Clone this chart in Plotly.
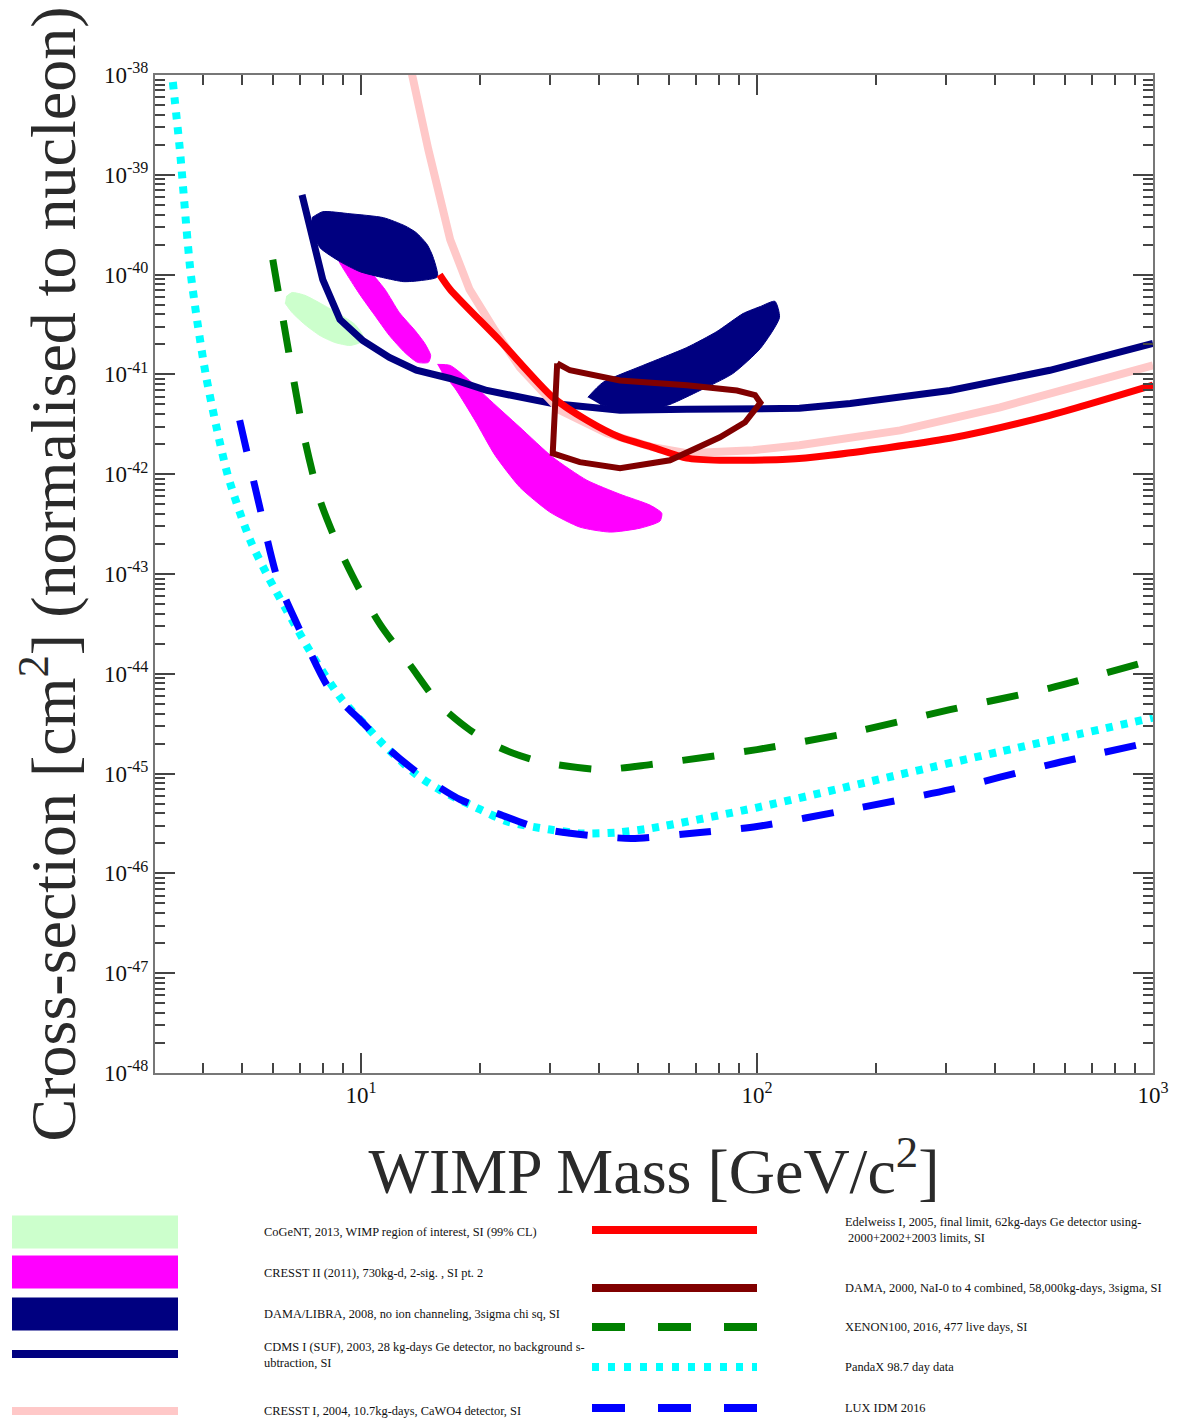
import plotly.graph_objects as go

# ---------------- data (WIMP mass in GeV/c^2, cross-section in cm^2) ----------------
pandax_m = [3.35, 3.49, 3.72, 4.06, 4.61, 5.25, 5.89, 6.70, 7.66, 8.96, 10.35, 11.4, 13.8,
            15.8, 20.0, 23.4, 30.0, 36.4, 44.3, 53.7, 100, 230, 411, 1000]
pandax_s = [8.5e-39, 1.78e-39, 1.0e-40, 9.8e-42, 9.8e-43, 2.19e-43, 8.7e-44, 3.47e-44, 1.38e-44,
            5.5e-45, 2.95e-45, 1.95e-45, 9.8e-46, 6.9e-46, 4.37e-46, 3.31e-46, 2.75e-46, 2.51e-46,
            2.57e-46, 2.82e-46, 4.57e-46, 9.8e-46, 1.66e-45, 3.63e-45]

lux_m = [4.94, 5.50, 6.17, 7.01, 8.35, 9.94, 11.8, 14.1, 17.8, 22.4, 28.3, 37.9, 48.3, 71.8,
         100, 172, 307, 549, 1000]
lux_s = [3.47e-42, 5.5e-43, 8.7e-44, 2.75e-44, 6.9e-45, 3.47e-45, 1.74e-45, 9.8e-46, 5.5e-46,
         3.9e-46, 2.82e-46, 2.4e-46, 2.24e-46, 2.57e-46, 2.95e-46, 4.37e-46, 6.9e-46, 1.23e-45,
         2.09e-45]

xenon_m = [5.99, 6.36, 6.73, 7.22, 7.88, 8.85, 9.94, 11.2, 13.3, 15.8, 18.8, 22.4, 28.3, 40.2,
           53.7, 100, 172, 307, 549, 1000]
xenon_s = [1.41e-40, 3.55e-41, 9.8e-42, 2.19e-42, 5.5e-43, 1.74e-43, 6.9e-44, 3.09e-44, 1.23e-44,
           4.9e-45, 2.75e-45, 1.82e-45, 1.32e-45, 1.10e-45, 1.23e-45, 1.74e-45, 2.57e-45, 4.37e-45,
           7.2e-45, 1.38e-44]

cdms_m = [7.10, 8.01, 8.85, 10.1, 11.8, 13.8, 16.8, 20.8, 30.5, 45.1, 66.5, 97.7,
          128, 172, 307, 549, 1000]
cdms_s = [6.3e-40, 8.9e-41, 3.55e-41, 2.19e-41, 1.48e-41, 1.10e-41, 9.1e-42,
          6.9e-42, 5.1e-42, 4.37e-42, 4.47e-42, 4.57e-42, 4.57e-42, 5.1e-42, 6.9e-42, 1.10e-41,
          2.04e-41]

edel_m = [15.8, 16.8, 22.4, 30.5, 37.2, 45.1, 54.6, 66.5, 80.6, 119, 153, 307, 549, 1000]
edel_s = [1.0e-40, 7.1e-41, 2.19e-41, 5.9e-42, 3.47e-42, 2.34e-42, 1.86e-42, 1.45e-42, 1.38e-42,
          1.41e-42, 1.55e-42, 2.29e-42, 3.89e-42, 7.8e-42]

cresst1_m = [12.9, 14.8, 16.8, 18.8, 21.8, 25.2, 31.8, 41.8, 54.6, 66.5, 97.7, 128, 230, 411, 1000]
cresst1_s = [2.2e-38, 1.78e-39, 2.24e-40, 7.1e-41, 2.75e-41, 1.17e-41, 4.37e-42, 2.57e-42,
             1.86e-42, 1.62e-42, 1.74e-42, 1.95e-42, 2.75e-42, 4.68e-42, 1.23e-41]

dama2000_m = [31.3, 30.5, 35.7, 45.1, 60.3, 80.6, 93.3, 102, 98.9, 89.0, 66.5, 45.1, 33.7, 31.3]
dama2000_s = [1.29e-41, 1.62e-42, 1.32e-42, 1.15e-42, 1.38e-42, 2.34e-42, 3.31e-42, 5.2e-42,
              6.2e-42, 6.9e-42, 7.8e-42, 8.7e-42, 1.10e-41, 1.29e-41]

libra1_m = [7.52, 8.01, 9.38, 11.4, 12.9, 13.8, 14.7, 15.2, 15.6, 14.1, 12.8, 11.4, 9.94, 8.85,
            7.88, 7.52]
libra1_s = [3.72e-40, 4.27e-40, 4.07e-40, 3.72e-40, 3.09e-40, 2.63e-40, 2.0e-40, 1.51e-40,
            9.5e-41, 8.7e-41, 8.5e-41, 9.3e-41, 1.07e-40, 1.35e-40, 1.86e-40, 2.82e-40]

libra2_m = [37.4, 40.8, 51.5, 66.5, 79.2, 92.2, 102, 111, 114, 102, 86.9, 71.8, 60.3, 52.1,
            45.1, 40.2]
libra2_s = [5.9e-42, 8.3e-42, 1.23e-41, 1.86e-41, 2.69e-41, 4.07e-41, 4.79e-41, 5.4e-41, 3.72e-41,
            1.82e-41, 1.02e-41, 6.9e-42, 5.0e-42, 4.27e-42, 4.57e-42, 5.0e-42]

cogent_m = [6.47, 6.70, 7.22, 8.01, 8.85, 9.66, 10.1, 9.94, 9.38, 8.59, 7.88, 7.22, 6.70, 6.43]
cogent_s = [6.0e-41, 6.6e-41, 6.2e-41, 5.0e-41, 3.98e-41, 3.16e-41, 2.45e-41, 2.09e-41, 1.95e-41,
            2.09e-41, 2.45e-41, 3.16e-41, 4.17e-41, 5.2e-41]

cresst2a_m = [8.85, 9.38, 10.35, 11.5, 12.5, 13.7, 14.5, 15.0, 14.8, 13.9, 12.9, 11.8, 10.8,
              9.94, 9.22, 8.80]
cresst2a_s = [1.70e-40, 1.70e-40, 1.17e-40, 7.1e-41, 4.17e-41, 2.75e-41, 2.04e-41, 1.55e-41,
              1.32e-41, 1.32e-41, 1.66e-41, 2.45e-41, 3.98e-41, 6.3e-41, 1.0e-40, 1.35e-40]

cresst2b_m = [15.6, 16.8, 18.8, 20.8, 25.2, 30.5, 37.2, 45.1, 53.7, 57.5, 56.9, 50.7, 42.6, 35.7,
              30.0, 25.2, 21.8, 19.4, 17.3, 16.0]
cresst2b_s = [1.26e-41, 1.23e-41, 8.7e-42, 5.9e-42, 2.95e-42, 1.48e-42, 8.7e-43, 6.3e-43, 4.9e-43,
              4.07e-43, 3.39e-43, 2.88e-43, 2.63e-43, 2.95e-43, 4.17e-43, 7.4e-43, 1.55e-42,
              3.47e-42, 7.2e-42, 1.05e-41]

y_tick_exps = [-48, -47, -46, -45, -44, -43, -42, -41, -40, -39, -38]
x_tick_vals = [10, 100, 1000]
x_tick_text = ["10<sup>1</sup>", "10<sup>2</sup>", "10<sup>3</sup>"]

legend_left = [
    ("CoGeNT, 2013, WIMP region of interest, SI (99% CL)", "#ccffcc", "box"),
    ("CRESST II (2011), 730kg-d, 2-sig. , SI pt. 2", "#ff00ff", "box"),
    ("DAMA/LIBRA, 2008, no ion channeling, 3sigma chi sq, SI", "#000080", "box"),
    ("CDMS I (SUF), 2003, 28 kg-days Ge detector, no background s-<br>ubtraction, SI", "#000080", "line"),
    ("CRESST I, 2004, 10.7kg-days, CaWO4 detector, SI", "#ffc8c8", "line"),
]
legend_right = [
    ("Edelweiss I, 2005, final limit, 62kg-days Ge detector using-<br> 2000+2002+2003 limits, SI", "#ff0000", "solid"),
    ("DAMA, 2000, NaI-0 to 4 combined, 58,000kg-days, 3sigma, SI", "#800000", "solid"),
    ("XENON100, 2016, 477 live days, SI", "#008000", "33px,33px"),
    ("PandaX 98.7 day data", "#00ffff", "7px,9px"),
    ("LUX IDM 2016", "#0000ff", "33px,33px"),
]

# ---------------- figure ----------------
W, H = 1180, 1423
L, R, T, B = 155, 27, 75, 350
PW, PH = W - L - R, H - T - B
SERIF = "Liberation Serif, Times New Roman, serif"


def px(x):
    return (x - L) / PW


def py(y):
    return (H - B - y) / PH


fig = go.Figure()


def region(m, s, color, name):
    fig.add_trace(go.Scatter(x=m, y=s, mode="lines", fill="toself", fillcolor=color,
                             line=dict(color=color, width=1, shape="spline", smoothing=0.6),
                             name=name, showlegend=False, hoverinfo="skip"))


def curve(m, s, color, width, dash="solid", shape="linear", name=""):
    fig.add_trace(go.Scatter(x=m, y=s, mode="lines", name=name, showlegend=False,
                             line=dict(color=color, width=width, dash=dash, shape=shape,
                                       smoothing=0.7)))


region(cogent_m, cogent_s, "#ccffcc", "CoGeNT")
region(cresst2a_m, cresst2a_s, "#ff00ff", "CRESST II")
region(cresst2b_m, cresst2b_s, "#ff00ff", "CRESST II")
region(libra1_m, libra1_s, "#000080", "DAMA/LIBRA")
region(libra2_m, libra2_s, "#000080", "DAMA/LIBRA")
curve(cdms_m, cdms_s, "#000080", 7, name="CDMS I")
curve(cresst1_m, cresst1_s, "#ffc8c8", 8, name="CRESST I")
curve(edel_m, edel_s, "#ff0000", 7, shape="spline", name="Edelweiss I")
curve(dama2000_m, dama2000_s, "#800000", 6, name="DAMA 2000")
curve(xenon_m, xenon_s, "#008000", 7, dash="32px,30px", shape="spline", name="XENON100")
curve(pandax_m, pandax_s, "#00ffff", 8, dash="7px,8px", shape="spline", name="PandaX")
curve(lux_m, lux_s, "#0000ff", 7, dash="32px,30px", shape="spline", name="LUX")

axis_common = dict(
    type="log", showgrid=False, zeroline=False, showline=True, linecolor="#777777",
    linewidth=2, mirror="allticks", ticks="inside", ticklen=20, tickwidth=1.5,
    tickcolor="#444444",
    minor=dict(ticks="inside", ticklen=10, tickwidth=1.5, tickcolor="#444444",
               dtick="D1", showgrid=False),
    tickfont=dict(family=SERIF, size=23, color="#111111"),
)

fig.update_xaxes(
    **axis_common, range=[0.48, 3], tickmode="array", tickvals=x_tick_vals, ticktext=x_tick_text,
    title=dict(text="WIMP Mass [GeV/c<sup>2</sup>]",
               font=dict(family=SERIF, size=64, color="#2a2a2a"), standoff=42),
)
fig.update_yaxes(
    **axis_common, range=[-48, -38], tickmode="array",
    tickvals=[10.0 ** e for e in y_tick_exps],
    ticktext=["10<sup>%d</sup>" % e for e in y_tick_exps],
    title=dict(text="Cross-section [cm<sup>2</sup>] (normalised to nucleon)",
               font=dict(family=SERIF, size=64, color="#2a2a2a"), standoff=8),
)

shapes = []
annotations = []
# left legend column
left_rows = [(1232, 33), (1272, 33), (1314, 33), (1354, 8), (1411, 8)]
left_text_y = [1232, 1273, 1314, 1355, 1411]
for (label, color, kind), (yc, hgt), ty in zip(legend_left, left_rows, left_text_y):
    shapes.append(dict(type="rect", xref="paper", yref="paper", x0=px(12), x1=px(178),
                       y0=py(yc + hgt / 2), y1=py(yc - hgt / 2), fillcolor=color,
                       line=dict(width=0), layer="above"))
    annotations.append(dict(xref="paper", yref="paper", x=px(262), y=py(ty), text=label,
                            showarrow=False, xanchor="left", yanchor="middle", align="left",
                            font=dict(family=SERIF, size=12.4, color="#111111")))
# right legend column
right_rows = [1230, 1288, 1327, 1367, 1408]
right_text_y = [1230, 1288, 1327, 1367, 1408]
for (label, color, dash), yc, ty in zip(legend_right, right_rows, right_text_y):
    shapes.append(dict(type="line", xref="paper", yref="paper", x0=px(592), x1=px(757),
                       y0=py(yc), y1=py(yc), line=dict(color=color, width=8, dash=dash),
                       layer="above"))
    annotations.append(dict(xref="paper", yref="paper", x=px(843), y=py(ty), text=label,
                            showarrow=False, xanchor="left", yanchor="middle", align="left",
                            font=dict(family=SERIF, size=12.4, color="#111111")))

fig.update_layout(
    width=W, height=H, margin=dict(l=L, r=R, t=T, b=B, autoexpand=False),
    paper_bgcolor="white", plot_bgcolor="white", showlegend=False,
    shapes=shapes, annotations=annotations,
    font=dict(family=SERIF),
)

fig.write_html("out.html")
